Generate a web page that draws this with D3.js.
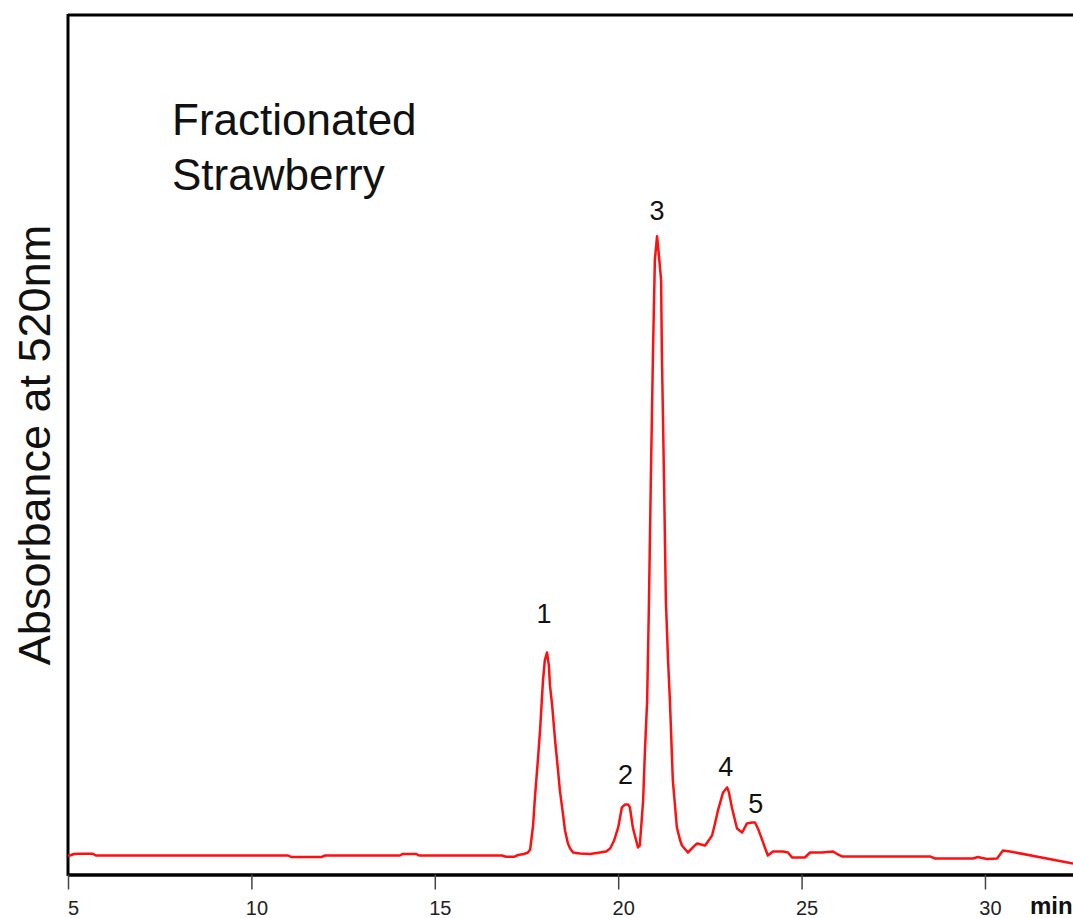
<!DOCTYPE html>
<html>
<head>
<meta charset="utf-8">
<script src="https://cdn.jsdelivr.net/npm/d3@7"></script>
<style>
    body { margin: 0; background: #fff; }
    svg { display: block; font-family: "Liberation Sans", Arial, sans-serif; }
</style>
</head>
<body>
<div id="chart"></div>
<script>
// Retention time (min) and absorbance (arbitrary units)
const retentionTime = [
    5.00, 5.05, 5.16, 5.33, 5.68, 5.76, 8.60, 11.00, 11.08, 11.92, 12.01, 14.05, 14.13, 14.49, 14.57,
    16.83, 16.94, 17.16, 17.27, 17.43, 17.54, 17.60, 17.68, 17.73, 17.81, 17.87, 17.95, 18.00, 18.06,
    18.11, 18.14, 18.20, 18.28, 18.36, 18.41, 18.50, 18.55, 18.63, 18.69, 18.77, 18.96, 19.23, 19.50,
    19.67, 19.78, 19.89, 20.00, 20.10, 20.19, 20.27, 20.32, 20.40, 20.49, 20.54, 20.59, 20.68, 20.73,
    20.79, 20.84, 20.89, 20.95, 21.00, 21.06, 21.11, 21.17, 21.19, 21.25, 21.30, 21.36, 21.41, 21.49,
    21.60, 21.69, 21.74, 21.90, 22.01, 22.15, 22.37, 22.56, 22.64, 22.72, 22.86, 22.97, 23.02, 23.10,
    23.24, 23.38, 23.51, 23.65, 23.73, 23.81, 23.95, 24.08, 24.22, 24.49, 24.63, 24.74, 25.09, 25.23,
    25.56, 25.86, 25.99, 26.10, 28.50, 28.64, 29.67, 29.81, 29.92, 30.06, 30.33, 30.49, 30.68, 32.40
];
const absorbance = [
    2.21, 2.21, 2.39, 2.41, 2.41, 2.21, 2.21, 2.21, 2.04, 2.04, 2.21, 2.21, 2.39, 2.39, 2.21,
    2.21, 2.06, 2.06, 2.27, 2.39, 2.56, 2.91, 5.70, 8.96, 13.27, 16.76, 22.58, 24.91, 25.84,
    24.33, 22.00, 19.67, 15.60, 12.11, 9.78, 6.87, 5.12, 3.61, 3.03, 2.56, 2.44, 2.39, 2.56,
    2.68, 3.03, 3.96, 5.47, 7.80, 8.15, 8.15, 7.80, 5.47, 3.96, 3.14, 3.38, 8.61, 14.44,
    20.26, 31.90, 45.87, 61.00, 71.48, 74.27, 72.06, 69.15, 61.00, 45.87, 31.90, 24.91, 20.26, 10.94,
    5.47, 3.96, 3.38, 2.56, 3.03, 3.61, 3.38, 4.54, 5.94, 7.45, 9.55, 10.13, 9.55, 7.80,
    5.36, 4.89, 5.94, 6.05, 6.05, 5.36, 3.73, 2.21, 2.68, 2.68, 2.56, 1.98, 1.98, 2.56,
    2.56, 2.68, 2.33, 2.10, 2.10, 1.86, 1.86, 2.04, 1.92, 1.80, 1.86, 2.79, 2.68, 1.28
];

// Peak numbers and where they sit
const peakLabels = ["1", "2", "3", "4", "5"];
const peakTimes = [17.98, 20.20, 21.06, 22.93, 23.75];
const peakLabelValues = [29.3, 10.5, 76.2, 11.5, 7.1];

const xTicks = [5, 10, 15, 20, 25, 30];

const width = 1073;
const height = 918;

const svg = d3.select("#chart")
    .append("svg")
    .attr("width", width)
    .attr("height", height);

const x = d3.scaleLinear()
    .domain([5, 32.4])
    .range([68, 1073]);

const y = d3.scaleLinear()
    .domain([0, 100])
    .range([874.5, 15]);

// frame: top and left border
svg.append("line")
    .attr("x1", 68).attr("x2", width)
    .attr("y1", 15).attr("y2", 15)
    .attr("stroke", "#000")
    .attr("stroke-width", 3);

svg.append("line")
    .attr("x1", 68).attr("x2", 68)
    .attr("y1", 14).attr("y2", 876)
    .attr("stroke", "#000")
    .attr("stroke-width", 3);

// x axis
const xAxis = svg.append("g")
    .attr("transform", "translate(0,874.5)")
    .call(d3.axisBottom(x)
        .tickValues(xTicks)
        .tickSize(15)
        .tickSizeOuter(0)
        .tickPadding(11));

xAxis.select(".domain")
    .attr("stroke", "#000")
    .attr("stroke-width", 3.5);

xAxis.selectAll(".tick line")
    .attr("stroke", "#444")
    .attr("stroke-width", 1.5);

xAxis.selectAll(".tick text")
    .attr("dx", 5)
    .style("font-family", "'Liberation Sans', Arial, sans-serif")
    .style("font-size", "20px")
    .attr("fill", "#222");

svg.append("text")
    .attr("x", 1030)
    .attr("y", 914)
    .style("font-size", "24px")
    .style("font-weight", "bold")
    .attr("fill", "#111")
    .text("min");

// chromatogram trace
const line = d3.line()
    .x((d, i) => x(retentionTime[i]))
    .y(d => y(d));

svg.append("path")
    .datum(absorbance)
    .attr("d", line)
    .attr("fill", "none")
    .attr("stroke", "#ff1010")
    .attr("stroke-width", 2.5)
    .attr("stroke-linejoin", "round");

// peak numbers
svg.selectAll(".peak-label")
    .data(peakLabels)
    .enter()
    .append("text")
    .attr("class", "peak-label")
    .attr("x", (d, i) => x(peakTimes[i]))
    .attr("y", (d, i) => y(peakLabelValues[i]))
    .attr("text-anchor", "middle")
    .style("font-size", "27px")
    .attr("fill", "#111")
    .text(d => d);

// sample name
const title = svg.append("text")
    .attr("x", 172)
    .style("font-size", "44px")
    .attr("fill", "#111");
title.append("tspan").attr("x", 172).attr("y", 135).text("Fractionated");
title.append("tspan").attr("x", 172).attr("y", 190).text("Strawberry");

// y axis label
svg.append("text")
    .attr("transform", "translate(50,445) rotate(-90)")
    .attr("text-anchor", "middle")
    .style("font-size", "45px")
    .attr("fill", "#111")
    .text("Absorbance at 520nm");
</script>
</body>
</html>
